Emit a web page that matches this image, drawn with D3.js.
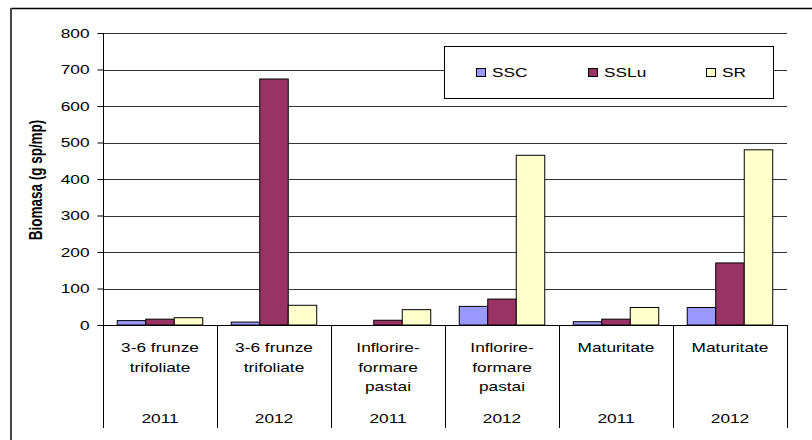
<!DOCTYPE html>
<html><head><meta charset="utf-8">
<script src="https://cdn.jsdelivr.net/npm/d3@7"></script>
<style>body{margin:0;background:#fff}svg{display:block}</style>
</head><body><svg id="c" width="812" height="440" font-family="Liberation Sans, Arial, sans-serif"></svg>
<script>
const stages = [["3-6 frunze","trifoliate"],["3-6 frunze","trifoliate"],["Inflorire-","formare","pastai"],["Inflorire-","formare","pastai"],["Maturitate"],["Maturitate"]];
const years = ["2011","2012","2011","2012","2011","2012"];
const seriesNames = ["SSC","SSLu","SR"];
const colors = ["#9999FF","#993366","#FFFFCC"];
const SSC = [12, 8, 0, 51, 9, 48];
const SSLu = [16, 674, 13, 71, 16, 170];
const SR = [20, 54, 42, 465, 48, 480];
const yTicks = [0,100,200,300,400,500,600,700,800];

const SX = 1.33, FS = 13;
const svg = d3.select("#c");
const L=103, R=787, T=33, B=325;
const idx = d3.range(stages.length);
const x = d3.scaleBand().domain(idx).range([L,R]).paddingInner(0).paddingOuter(0);
const y = d3.scaleLinear().domain([0,800]).range([B,T]);
const series = [SSC,SSLu,SR];
const xs = d3.scaleBand().domain(d3.range(3)).range([0,x.bandwidth()]).paddingInner(0).paddingOuter(0.5);

function txt(px,py,t,anchor){
  return svg.append("text").attr("transform",`translate(${px},${py}) scale(${SX},1)`)
    .attr("text-anchor",anchor||"middle").attr("font-size",FS).attr("fill","#000").text(t);
}

// outer border
svg.append("line").attr("x1",11).attr("x2",812).attr("y1",8.5).attr("y2",8.5).attr("stroke","#000").attr("stroke-width",1.5);
svg.append("line").attr("x1",11).attr("x2",11).attr("y1",8).attr("y2",440).attr("stroke","#444").attr("stroke-width",2);

// gridlines
svg.append("g").selectAll("line").data(yTicks.filter(d=>d>0)).join("line")
  .attr("x1",L).attr("x2",R).attr("y1",d=>Math.round(y(d))+0.5).attr("y2",d=>Math.round(y(d))+0.5)
  .attr("stroke","#333").attr("stroke-width",1);

// y axis
const ya = svg.append("g").attr("transform",`translate(${L+0.5},0)`)
  .call(d3.axisLeft(y).tickValues(yTicks).tickSize(6).tickPadding(8));
ya.attr("font-family",null).attr("font-size",null);
ya.select(".domain").attr("stroke","#000").attr("d",`M0,${T}V${B}`);
ya.selectAll(".tick line").attr("stroke","#000");
ya.selectAll(".tick text").attr("x",0).attr("transform",`translate(-14,0) scale(${SX},1)`)
  .attr("font-size",FS).attr("fill","#000");

// bars
const g = svg.append("g");
idx.forEach(i=>{
  series.forEach((s,k)=>{
    if(s[i]<=0) return;
    g.append("rect").attr("x",x(i)+xs(k)).attr("width",xs.bandwidth())
      .attr("y",y(s[i])).attr("height",y(0)-y(s[i]))
      .attr("fill",colors[k]).attr("stroke","#000").attr("stroke-width",1);
  });
});

// x axis baseline
svg.append("line").attr("x1",L).attr("x2",R).attr("y1",B+0.5).attr("y2",B+0.5).attr("stroke","#000");
// category dividers
svg.append("g").selectAll("line").data(d3.range(stages.length+1)).join("line")
  .attr("x1",d=>d<stages.length?x(d)+0.5:R+0.5).attr("x2",d=>d<stages.length?x(d)+0.5:R+0.5)
  .attr("y1",B).attr("y2",428).attr("stroke","#000");

// category labels
idx.forEach(i=>{
  const cx = x(i)+x.bandwidth()/2;
  stages[i].forEach((t,j)=>{ txt(cx,352+j*19.5,t); });
  txt(cx,423,years[i]);
});

// y label
svg.append("text").attr("transform",`translate(42,180) scale(${SX},1) rotate(-90)`).attr("text-anchor","middle")
  .attr("font-size",13.5).attr("font-weight","bold").attr("fill","#000").text("Biomasa (g sp/mp)");

// legend
svg.append("rect").attr("x",444.5).attr("y",46.5).attr("width",329).attr("height",52).attr("fill","#fff").attr("stroke","#000");
const lx = [476,588,706];
seriesNames.forEach((n,k)=>{
  svg.append("rect").attr("x",lx[k]+0.5).attr("y",68.5).attr("width",9).attr("height",8).attr("fill",colors[k]).attr("stroke","#000");
  txt(lx[k]+16,77,n,"start");
});
</script></body></html>
